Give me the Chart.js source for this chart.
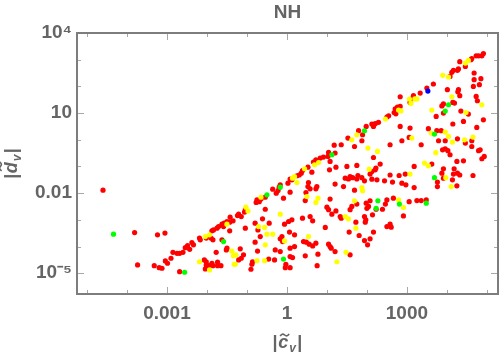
<!DOCTYPE html>
<html>
<head>
<meta charset="utf-8">
<script src="https://cdn.jsdelivr.net/npm/chart.js@4.4.0/dist/chart.umd.min.js"></script>
<style>
  html, body { margin: 0; padding: 0; background: #fff; }
  #wrap { width: 504px; height: 354px; }
</style>
</head>
<body>
<div id="wrap"><canvas id="chart" width="504" height="354"></canvas></div>
<script>
// ---------- data ----------
const chartTitle = "NH";

const xTickValues = [1e-3, 1, 1e3];
const xTickLabels = ["0.001", "1", "1000"];
const yTickValues = [1e-5, 1e-2, 10, 1e4];
const yTickLabels = ["10\u207B\u2075", "0.01", "10", "10\u2074"];
const xDecades = [1e-5, 1e-4, 1e-3, 1e-2, 1e-1, 1, 10, 100, 1e3, 1e4, 1e5];
const yDecades = [1e-5, 1e-4, 1e-3, 1e-2, 1e-1, 1, 10, 100, 1e3, 1e4];

const redPoints = [
  [8.2e4,1.7e3],[7.5e4,1.4e3],[6.2e4,1.4e3],[5.4e4,1.4e3],[4.2e4,1.1e3],[4.0e4,1.0e3],[2.1e4,840],[2.9e4,560],
  [1.95e4,450],[1.84e4,400],[1.46e4,400],[1.33e4,335],[1.2e4,237],[4.8e4,318],[4.8e4,178],[7.1e4,195],[4.6e4,100],
  [6.5e4,116],[4.6e3,123],[3.16e3,87],[1.03e4,75],[1.95e4,75],[1.88e4,63],[2.15e3,56],[1.46e3,45],[1.41e3,36.5],
  [680,41],[1.2e3,25],[680,17.7],[510,14.5],[480,10.5],[530,9.4],[350,7.9],[316,7.1],[195,4.5],[161,4.0],[133,3.9],
  [146,3.16],[96,3.16],[680,3.16],[1.2e3,2.75],[2.1e4,45],[5.4e4,42],[5.8e4,29],[8.2e3,22],[7.5e3,18.5],[1.41e4,25],
  [1.55e4,23.7],[8.2e3,10],[2.24e4,11.9],[3.45e4,9.2],[5.4e3,7.5],[8.2e4,5.6],[2.6e4,4.85],[1.41e4,3.9],[5.6e4,2.9],
  [580,16.8],
  [3.45e3,2.6],[5.6e3,2.2],[62,2.2],[78,1.54],[75,0.92],[33.5,1.16],[22.8,0.65],[49,0.56],[146,0.217],[380,0.65],
  [750,0.92],[1.14e3,1.22],[2.28e3,0.65],[7.2e3,2.2],[6.2e3,0.92],[9.1e3,0.92],[1.84e4,1.09],[2.9e4,0.75],[4.2e4,0.92],
  [4.2e4,0.56],[6.8e4,0.42],[6.2e4,0.39],[8.6e4,0.237],[7.5e4,0.195],[7.8e3,0.42],[9.1e3,0.46],[1.06e4,0.39],
  [1.2e4,0.275],[2.6e4,0.163],[1.78e4,0.154],[4.2e3,0.123],[8.2e3,0.082],[7.5e3,0.056],[1.52e4,0.082],[1.46e4,0.052],
  [1.84e4,0.056],[2.1e4,0.048],[4.5e4,0.046],[8.2e3,0.0365],[5.8e3,0.026],[5.8e3,0.0177],[1.38e4,0.0316],
  [1.78e4,0.0188],[31.6,0.1],[56,0.109],[133,0.0645],[161,0.075],[168,0.087],[215,0.123],[120,0.052],[28.7,0.0365],
  [38,0.042],[34.6,0.034],[44,0.038],[59.6,0.046],[56,0.034],[75,0.038],[87,0.029],[178,0.0316],[133,0.0335],
  [276,0.029],[380,0.048],[437,0.026],[640,0.046],[910,0.052],[1.52e3,0.1],[750,0.0237],[944,0.0205],[1.52e3,0.0162],
  [26,0.0177],[49,0.013],[56,0.0039],[96,0.0042],[120,0.0052],[290,0.0039],[1.14e3,0.0048],[1.78e3,0.0053],
  [2.28e3,0.0053],[3.05e3,0.0056],[16.8,0.00217],[42,0.0032],[38,0.0024],[100,0.0027],[110,0.0032],[170,0.0025],
  [316,0.0056],[460,0.0065],[245,0.0025],
  [15.2,0.63],[11,0.335],[10.6,0.237],[12,0.154],[16,0.32],[8.2,0.225],[6.8,0.207],[5.3,0.178],[4.6,0.146],
  [11.6,0.075],[16.8,0.094],[4.2,0.061],[3.35,0.094],[2.45,0.07],[2.28,0.056],[2.03,0.048],[1.78,0.045],[1.2,0.034],
  [1.33,0.0316],[1.06,0.0237],[3.46,0.025],[3.35,0.0177],[3.8,0.0145],[5.6,0.0177],[5.3,0.0145],[16,0.022],
  [0.68,0.0205],[0.64,0.0168],[0.6,0.0125],[0.54,0.01],[0.44,0.0141],[1.2,0.0109],[2.99,0.0105],[12,0.006],
  [2.87,0.0053],[0.82,0.0065],[0.287,0.0071],[0.224,0.006],[0.178,0.0056],[0.17,0.0045],[0.203,0.0048],[10,0.003],
  [0.287,0.0025],[11,0.0024],
  [13.3,0.00163],[21.5,0.00133],[22.8,0.00116],[53,8.2e-4],[87,0.00133],[94,0.001],[91,8.2e-4],[138,0.00154],
  [316,5.6e-4],[380,6.9e-4],[405,5.3e-4],[36,3.5e-4],[64,2.6e-4],[87,1.68e-4],[104,1.16e-4],[120,1.95e-4],
  [146,3.5e-4],[9.1,5.2e-4],[2.45,0.00116],[3.8,0.00133],[4.4,9.2e-4],[1.33,0.001],[1.1,8.7e-4],[0.87,6.9e-4],
  [0.062,0.00163],[0.072,0.00133],[0.091,0.0024],[0.087,0.00195],[0.245,0.00109],[0.36,7.5e-4],[0.188,4.2e-4],
  [0.215,2.37e-4],[0.091,4.9e-4],[0.75,2.37e-4],[0.68,1.95e-4],[0.78,1.54e-4],[1.16,3.5e-4],[1.55,2.75e-4],
  [2.6,1.54e-4],[3.05,1.46e-4],[3.6,1.23e-4],[4.4,1.06e-4],[5.3,1.34e-4],[11,1.23e-4],[12,1.0e-4],[12.8,8.7e-5],
  [16,6.5e-5],[38,4.9e-5],[1.55,1.0e-4],[1.2,8.7e-5],[0.51,7.5e-5],[0.68,6.5e-5],[0.16,1.46e-4],[0.184,6.8e-5],
  [0.068,8.2e-5],[0.082,4.9e-5],[0.072,3.65e-5],[0.35,3.4e-5],[0.49,3.16e-5],[0.138,2.7e-5],[0.133,2.17e-5],
  [0.126,1.41e-5],[1.2,4.2e-5],[1.38,3.85e-5],[0.94,2.17e-5],[0.91,1.62e-5],[1.2,1.62e-5],[2.87,4.5e-5],
  [5.96,5.2e-5],[5.7,1.93e-5],[820,0.00141],[0.16,7.5e-4],
  [1.55e-4,3.35e-4],[5.8e-4,2.75e-4],[8.9e-4,3.2e-4],[1.84e-4,2.05e-5],[4.8e-4,1.93e-5],[6.4e-4,1.62e-5],
  [7.5e-4,1.54e-5],[9.1e-4,2.9e-5],[1.03e-3,2.37e-5],[1.26e-3,3.65e-5],[1.41e-3,6.1e-5],[1.78e-3,5.6e-5],
  [2.07e-3,5.6e-5],[2.51e-3,6.1e-5],[2.87e-3,9.1e-5],[3.27e-3,1.09e-4],[3.7e-3,7.9e-5],[4.2e-3,1.41e-4],
  [4.6e-3,1.16e-4],[6.5e-3,2.07e-4],[6.8e-3,1.78e-4],[9.6e-3,2.07e-4],[1.26e-2,2.07e-4],[1.41e-2,1.78e-4],
  [1.33e-2,3.9e-4],[1.46e-2,4.2e-4],[1.78e-2,4.9e-4],[1.95e-2,5.6e-4],[2.37e-2,6.9e-4],[2.7e-2,7.5e-4],
  [3.16e-2,8.7e-4],[3.7e-2,8.2e-4],[4.5e-2,9.2e-4],[2.6e-2,5.6e-4],[3.7e-2,3.9e-4],[2.37e-2,1.78e-4],
  [3.16e-2,8.7e-5],[3.05e-2,7.5e-5],[1.7e-2,6.1e-5],[6.2e-2,3.16e-5],[5.8e-2,1.45e-3],[2.07e-3,1.15e-5],
  [8.6e-3,3.16e-5],[9.6e-3,2.7e-5],[9.6e-3,2.05e-5],[1.1e-2,1.93e-5],[9.1e-3,1.45e-5],[1.33e-2,2.37e-5],
  [1.41e-2,1.93e-5],[1.84e-2,2.6e-5],[1.84e-2,1.93e-5],[2.24e-2,1.93e-5],[3.8e-2,1.26e-3],[2.51e-5,1.3e-2]
];

const yellowPoints = [
  [3.45e4,940],[2.9e4,750],[1.1e4,225],[7.9e3,259],[1.78e3,34],[1.58e3,34],[1.16e3,33.5],[1.26e3,23],[620,13],
  [710,12],[290,6.0],[1.33e4,41],[7.5e4,20.5],[4.2e3,13],[3.0e4,10.5],
  [56,1.54],[42,1.0],[106,0.49],[184,0.365],[1.33e3,1.16],[4.05e3,1.78],[9.1e3,1.95],[1.1e4,1.33],[1.38e4,0.82],
  [2.76e4,1.0],[4.5e4,1.26],[5.3e3,0.33],[2.76e3,0.134],[3.45e3,0.106],[9.4e3,0.038],[1.28e4,0.0177],[114,0.079],
  [1.2e3,0.052],[75,0.0162],[78,0.0122],[49,0.0052],[620,0.0056],[820,0.0029],
  [6.2,0.141],[4.9,0.116],[2.76,0.082],[1.55,0.042],[1.38,0.0365],[1.78,0.025],[3.16,0.0075],[5.96,0.0065],
  [5.3,0.0045],[0.224,0.0071],[0.094,0.003],
  [28.7,0.00133],[34.6,0.00109],[53,4.9e-4],[0.68,0.00163],[0.106,0.00217],[0.195,5.6e-4],[0.276,5.2e-4],
  [0.316,2.9e-4],[0.44,2.9e-4],[3.46,2.37e-4],[0.87,1.63e-4],[30,6.1e-5],[0.287,1.16e-4],[0.053,4.9e-5],
  [0.051,2.17e-5],[0.276,2.97e-5],[0.178,2.97e-5],[17.8,2.7e-5],
  [9.1e-3,2.37e-4],[1.16e-2,2.75e-4],[3.16e-2,6.9e-4],[4.2e-2,6.8e-5],[4.6e-2,4.5e-5],[4.8e-2,2.17e-5],
  [6.5e-3,2.7e-5],[1.16e-2,1.33e-5]
];

const greenPoints = [
  [1.1e4,20.5],[9.1e3,11.9],[87,2.17],[4.9e3,1.63],[4.9e3,0.038],[188,0.0052],[170,0.0027],[650,0.0039],
  [3.05e3,0.0042],[13.3,0.275],[0.68,0.0168],[0.316,0.0087],[0.82,3.4e-5],[4.6e-5,2.9e-4],[2.76e-3,1.09e-5],
  [2.6e-2,1.54e-4]
];

const bluePoints = [[3.35e3,66.8]];

// ---------- styling ----------
const textGray = "#656565";
const frameGray = "#7d7d7d";
const tickGray = "#a8a8a8";
const fontFamily = '"Liberation Sans", Arial, Helvetica, sans-serif';

function toXY(list) {
  return list.map(p => ({ x: p[0], y: p[1] }));
}

function makeSet(label, list, color, order) {
  return {
    label: label,
    data: toXY(list),
    backgroundColor: color,
    borderColor: color,
    pointBackgroundColor: color,
    pointBorderWidth: 0,
    borderWidth: 0,
    pointRadius: 2.6,
    pointHoverRadius: 2.6,
    order: order
  };
}

// |c~_v| style label, centred at x, baseline y
function drawVarLabel(ctx, letter, x, y) {
  const bar = "bold 18px " + fontFamily;
  const main = "italic bold 18px " + fontFamily;
  const sub = "italic bold 12px " + fontFamily;
  ctx.font = bar; const wb = ctx.measureText("|").width;
  ctx.font = main; const wl = ctx.measureText(letter).width;
  ctx.font = sub; const ws = ctx.measureText("v").width;
  const total = wb * 2 + wl + ws + 3;
  let cx = x - total / 2;
  ctx.textAlign = "left";
  ctx.textBaseline = "alphabetic";
  ctx.font = bar; ctx.fillText("|", cx, y); cx += wb + 0.5;
  ctx.font = main; ctx.fillText(letter, cx, y);
  // tilde over the letter
  const tx = cx + wl / 2 + 1.5;
  const ty = y - (letter === "d" ? 16.5 : 13);
  ctx.beginPath();
  ctx.moveTo(tx - 4.5, ty + 1.2);
  ctx.quadraticCurveTo(tx - 2.5, ty - 2.2, tx, ty);
  ctx.quadraticCurveTo(tx + 2.5, ty + 2.2, tx + 4.5, ty - 1.2);
  ctx.lineWidth = 1.6;
  ctx.strokeStyle = textGray;
  ctx.stroke();
  cx += wl + 1;
  ctx.font = sub; ctx.fillText("v", cx, y + 4); cx += ws + 1.5;
  ctx.font = bar; ctx.fillText("|", cx, y);
}

const framePlugin = {
  id: "frame",
  afterDraw(chart) {
    const { ctx, chartArea: a, scales } = chart;
    const xs = scales.x, ys = scales.y;
    ctx.save();
    ctx.lineWidth = 1;
    ctx.strokeStyle = tickGray;
    xDecades.forEach(v => {
      const px = Math.round(xs.getPixelForValue(v)) + 0.5;
      const len = xTickValues.includes(v) ? 7 : 4;
      ctx.beginPath();
      ctx.moveTo(px, a.bottom); ctx.lineTo(px, a.bottom - len);
      ctx.moveTo(px, a.top); ctx.lineTo(px, a.top + len);
      ctx.stroke();
    });
    yDecades.forEach(v => {
      const py = Math.round(ys.getPixelForValue(v)) + 0.5;
      const len = yTickValues.includes(v) ? 7 : 4;
      ctx.beginPath();
      ctx.moveTo(a.left, py); ctx.lineTo(a.left + len, py);
      ctx.moveTo(a.right, py); ctx.lineTo(a.right - len, py);
      ctx.stroke();
    });
    ctx.lineWidth = 2;
    ctx.strokeStyle = frameGray;
    ctx.strokeRect(a.left, a.top, a.right - a.left, a.bottom - a.top);

    // titles
    ctx.fillStyle = textGray;
    ctx.font = "bold 19px " + fontFamily;
    ctx.textAlign = "center";
    ctx.textBaseline = "middle";
    ctx.fillText(chartTitle, (a.left + a.right) / 2, 13);

    drawVarLabel(ctx, "c", (a.left + a.right) / 2, 348);

    ctx.save();
    ctx.translate(17, (a.top + a.bottom) / 2);
    ctx.rotate(-Math.PI / 2);
    drawVarLabel(ctx, "d", 0, 0);
    ctx.restore();
    ctx.restore();
  }
};

const tickFont = { family: fontFamily, size: 19, weight: "bold" };

function initChart() {
  const ctx = document.getElementById("chart").getContext("2d");
  new Chart(ctx, {
    type: "scatter",
    data: {
      datasets: [
        makeSet("red", redPoints, "#ff0000", 4),
        makeSet("yellow", yellowPoints, "#ffff00", 3),
        makeSet("green", greenPoints, "#00ff00", 2),
        makeSet("blue", bluePoints, "#0000ff", 1)
      ]
    },
    options: {
      responsive: false,
      animation: false,
      layout: { padding: { top: 33, right: 6, left: 0, bottom: 0 } },
      plugins: {
        legend: { display: false },
        title: { display: false },
        tooltip: { enabled: false }
      },
      scales: {
        x: {
          type: "logarithmic",
          min: 5.62e-6,
          max: 1.9e5,
          grid: { display: false, drawTicks: false },
          border: { display: false },
          afterBuildTicks: s => { s.ticks = xTickValues.map(v => ({ value: v })); },
          afterFit: s => { s.height = 60; },
          ticks: {
            autoSkip: false,
            maxRotation: 0,
            padding: 8,
            color: textGray,
            font: tickFont,
            callback: (v, i) => xTickLabels[i]
          }
        },
        y: {
          type: "logarithmic",
          min: 1.67e-6,
          max: 1e4,
          grid: { display: false, drawTicks: false },
          border: { display: false },
          afterBuildTicks: s => { s.ticks = yTickValues.map(v => ({ value: v })); },
          afterFit: s => { s.width = 77; },
          ticks: {
            autoSkip: false,
            padding: 5,
            color: textGray,
            font: tickFont,
            callback: (v, i) => yTickLabels[i]
          }
        }
      }
    },
    plugins: [framePlugin]
  });
}

document.addEventListener("DOMContentLoaded", initChart);
</script>
</body>
</html>
